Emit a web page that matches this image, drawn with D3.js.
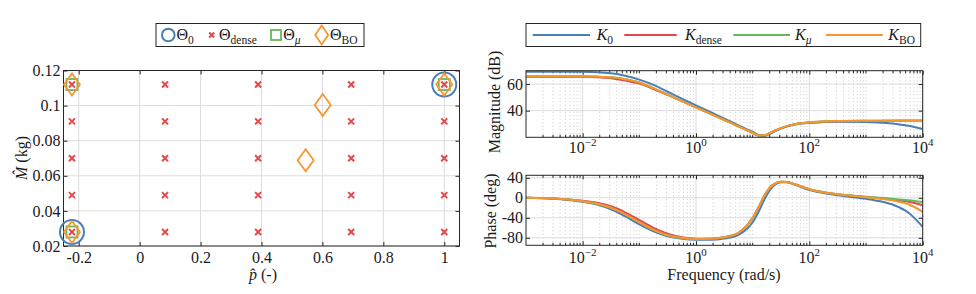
<!DOCTYPE html>
<head>
<meta charset="utf-8">
<script src="https://cdn.jsdelivr.net/npm/d3@7"></script>
<style>
  body { margin: 0; background: #fff; }
</style>
</head>
<body>
<svg width="976" height="294"></svg>
<script>
// ---- left panel: parameter points ----
var pGrid = [-0.2222, 0.0833, 0.3889, 0.6944, 1.0]
var mGrid = [0.028, 0.049, 0.070, 0.091, 0.112]
var theta0 = [[-0.2222, 0.028], [1.0, 0.112]]
var thetaMu = [[-0.2222, 0.112], [-0.2222, 0.028], [1.0, 0.112]]
var thetaBO = [[-0.2222, 0.112], [-0.2222, 0.028], [1.0, 0.112], [0.601, 0.1003], [0.545, 0.0689]]
var pTicks = [-0.2, 0, 0.2, 0.4, 0.6, 0.8, 1]
var mTicks = [0.02, 0.04, 0.06, 0.08, 0.1, 0.12]

// ---- right panels: bode data (log10 of rad/s) ----
var logW = [-3, -2.5, -2, -1.75, -1.5, -1.25, -1, -0.75, -0.5, -0.25, 0, 0.25, 0.5, 0.75, 0.9, 1, 1.1, 1.2, 1.3, 1.4, 1.5, 1.6, 1.75, 2, 2.25, 2.5, 3, 3.25, 3.5, 3.75, 4]

var magK0    = [69.3, 69.3, 69.2, 68.9, 68.0, 66.2, 63.3, 59.3, 54.2, 49.0, 44.0, 39.0, 34.0, 29.0, 26.0, 24.0, 21.8, 21.0, 22.5, 24.6, 26.5, 28.0, 29.6, 30.9, 31.4, 31.6, 31.5, 31.0, 30.2, 28.6, 26.2]
var magDense = [65.5, 65.5, 65.4, 65.1, 64.3, 62.6, 60.3, 56.3, 51.8, 47.1, 42.5, 37.8, 33.0, 28.2, 25.3, 23.3, 21.4, 21.4, 23.1, 25.1, 26.9, 28.4, 29.9, 31.2, 31.8, 32.1, 32.3, 32.3, 32.4, 32.4, 32.4]
var magMu    = [66.0, 66.0, 65.9, 65.6, 65.0, 63.6, 61.2, 56.9, 52.0, 47.2, 42.5, 37.8, 33.0, 28.2, 25.3, 23.3, 21.4, 21.4, 23.1, 25.1, 26.9, 28.4, 29.9, 31.3, 31.9, 32.2, 32.4, 32.5, 32.5, 32.6, 32.7]
var magBO    = [66.0, 66.0, 65.9, 65.6, 65.0, 63.6, 61.2, 56.9, 52.0, 47.2, 42.5, 37.8, 33.0, 28.2, 25.3, 23.3, 21.4, 21.4, 23.1, 25.1, 26.9, 28.4, 29.9, 31.3, 31.9, 32.2, 32.4, 32.4, 32.4, 32.3, 32.2]

var phK0    = [0, -1.8, -8, -13.5, -23, -37, -53, -67, -77, -82, -84, -84, -81.5, -74, -62, -49, -29, -5, 15, 26.5, 31, 31, 26, 15.5, 9.5, 5, -2, -7, -15, -30, -58]
var phDense = [0, -1.2, -6, -10, -17, -29, -44.5, -60, -72, -79, -82, -82, -79, -70, -55, -40, -20, 3, 20, 29, 32, 31.5, 27, 17, 11, 7, 1.5, -1, -4, -8, -15]
var phMu    = [0, -1.5, -7, -12, -20, -33, -49, -64, -75, -80.5, -82.5, -82, -79, -70, -55, -40, -20, 3, 20, 29, 32, 31.5, 27, 17, 11, 7, 2, 0, -2.5, -5, -9]
var phBO    = [0, -1.5, -7, -12, -20, -33, -49, -64, -75, -80.5, -82.5, -82, -79, -70, -55, -40, -20, 3, 20, 29, 32, 31.5, 27, 17, 11, 7, 1, -2, -6, -13, -28]

var magTicks = [40, 60]
var phTicks = [-80, -40, 0, 40]
var freqTicks = [1e-2, 1e0, 1e2, 1e4]

var cBlue = '#4a7fb5', cRed = '#e5474b', cGreen = '#64b95b', cOrange = '#f7962f'
var gridCol = '#dcdcdc', boxCol = '#262626'
var FONT = "'Liberation Serif', serif", FS = '16px'

var svg = d3.select('svg')

// text with a subscript part
function subText(g, x, y, base, sub, opt) {
  opt = opt || {}
  var t = g.append('text').attr('x', x).attr('y', y).style('font-size', FS)
  t.append('tspan').text(base).style('font-style', opt.italic ? 'italic' : 'normal')
  t.append('tspan').attr('dy', 4).style('font-size', '11.5px')
    .style('font-style', opt.subItalic ? 'italic' : 'normal').text(sub)
  return t
}

// ================= left panel =================
var x1 = d3.scaleLinear().domain([-0.25, 1.05]).range([63.5, 459.5])
var y1 = d3.scaleLinear().domain([0.02, 0.12]).range([246, 70.5])
var L = svg.append('g')

L.selectAll('.vg').data(pTicks).enter().append('line')
  .attr('x1', x1).attr('x2', x1).attr('y1', y1.range()[0]).attr('y2', y1.range()[1])
  .attr('stroke', gridCol)
L.selectAll('.hg').data(mTicks).enter().append('line')
  .attr('y1', y1).attr('y2', y1).attr('x1', x1.range()[0]).attr('x2', x1.range()[1])
  .attr('stroke', gridCol)

function fmt(d) { return String(+d.toFixed(4)) }

L.append('g').attr('transform', 'translate(0,246)')
  .call(d3.axisBottom(x1).tickValues(pTicks).tickSize(-4).tickSizeOuter(0).tickPadding(6).tickFormat(fmt))
L.append('g').attr('transform', 'translate(0,70.5)')
  .call(d3.axisTop(x1).tickValues(pTicks).tickSize(-4).tickSizeOuter(0).tickFormat(''))
L.append('g').attr('transform', 'translate(63.5,0)')
  .call(d3.axisLeft(y1).tickValues(mTicks).tickSize(-4).tickSizeOuter(0).tickPadding(3).tickFormat(fmt))
L.append('g').attr('transform', 'translate(459.5,0)')
  .call(d3.axisRight(y1).tickValues(mTicks).tickSize(-4).tickSizeOuter(0).tickFormat(''))
L.selectAll('.domain').remove()
L.selectAll('.tick line').attr('stroke', boxCol)
L.selectAll('.tick text').style('font-size', FS)

L.append('rect').attr('x', 63.5).attr('y', 70.5).attr('width', 396).attr('height', 175.5)
  .attr('fill', 'none').attr('stroke', boxCol)

var dense = d3.cross(pGrid, mGrid)
var crossPath = function (s) { return 'M' + -s + ',' + -s + 'L' + s + ',' + s + 'M' + -s + ',' + s + 'L' + s + ',' + -s }
var diamondPath = function (w, h) { return 'M0,' + -h + 'L' + w + ',0L0,' + h + 'L' + -w + ',0Z' }

L.selectAll('.c0').data(theta0).enter().append('circle')
  .attr('cx', function (d) { return x1(d[0]) }).attr('cy', function (d) { return y1(d[1]) })
  .attr('r', 12).attr('fill', 'none').attr('stroke', cBlue).attr('stroke-width', 2)
L.selectAll('.cd').data(dense).enter().append('path')
  .attr('transform', function (d) { return 'translate(' + x1(d[0]) + ',' + y1(d[1]) + ')' })
  .attr('d', crossPath(3)).attr('stroke', cRed).attr('stroke-width', 2)
L.selectAll('.cm').data(thetaMu).enter().append('rect')
  .attr('x', function (d) { return x1(d[0]) - 5.5 }).attr('y', function (d) { return y1(d[1]) - 5.5 })
  .attr('width', 11).attr('height', 11).attr('fill', 'none').attr('stroke', cGreen).attr('stroke-width', 1.8)
L.selectAll('.cb').data(thetaBO).enter().append('path')
  .attr('transform', function (d) { return 'translate(' + x1(d[0]) + ',' + y1(d[1]) + ')' })
  .attr('d', diamondPath(8, 11)).attr('fill', 'none').attr('stroke', cOrange).attr('stroke-width', 1.8)

// axis labels
var xl = L.append('text').attr('x', 263).attr('y', 280).attr('text-anchor', 'middle').style('font-size', FS)
xl.append('tspan').style('font-style', 'italic').text('p\u0302')
xl.append('tspan').text(' (-)')
var yl = L.append('text').attr('transform', 'translate(27,158) rotate(-90)').attr('text-anchor', 'middle').style('font-size', FS)
yl.append('tspan').style('font-style', 'italic').text('M\u0302')
yl.append('tspan').text(' (kg)')

// left legend
var lg = svg.append('g')
lg.append('rect').attr('x', 156).attr('y', 23.5).attr('width', 208).attr('height', 23)
  .attr('fill', '#fff').attr('stroke', boxCol)
lg.append('circle').attr('cx', 168.3).attr('cy', 35).attr('r', 6.3).attr('fill', 'none').attr('stroke', cBlue).attr('stroke-width', 2)
subText(lg, 176.5, 40, '\u0398', '0')
lg.append('path').attr('transform', 'translate(211.7,35)').attr('d', crossPath(2.5)).attr('stroke', cRed).attr('stroke-width', 2)
subText(lg, 219, 40, '\u0398', 'dense')
lg.append('rect').attr('x', 271).attr('y', 30).attr('width', 10).attr('height', 10).attr('fill', 'none').attr('stroke', cGreen).attr('stroke-width', 1.8)
subText(lg, 283.3, 40, '\u0398', '\u03bc', { subItalic: true })
lg.append('path').attr('transform', 'translate(321.7,35)').attr('d', diamondPath(6.5, 9.5)).attr('fill', 'none').attr('stroke', cOrange).attr('stroke-width', 1.8)
subText(lg, 330, 40, '\u0398', 'BO')

// ================= right panels =================
var xF = d3.scaleLog().domain([1e-3, 1e4]).range([526, 922.7])
var yM = d3.scaleLinear().domain([20, 70]).range([137.3, 70.7])
var yP = d3.scaleLinear().domain([-95, 45]).range([245.3, 175.3])

var minorF = []
for (var e = -3; e < 4; e++) for (var k = 1; k < 10; k++) minorF.push(k * Math.pow(10, e))
minorF = minorF.filter(function (f) { return f > 1e-3 * 1.01 && f < 1e4 * 0.99 && freqTicks.indexOf(f) < 0 })

var series = [
  { mag: magK0, ph: phK0, col: cBlue },
  { mag: magDense, ph: phDense, col: cRed },
  { mag: magMu, ph: phMu, col: cGreen },
  { mag: magBO, ph: phBO, col: cOrange }
]

function bodePanel(ys, yTicks, key, clipId, labOff) {
  var g = svg.append('g')
  var y0 = ys.range()[0], y1r = ys.range()[1]
  g.selectAll('.mg').data(minorF).enter().append('line')
    .attr('x1', xF).attr('x2', xF).attr('y1', y0).attr('y2', y1r)
    .attr('stroke', '#bdbdbd').attr('stroke-width', 0.8).attr('stroke-dasharray', '1,2.5')
  g.selectAll('.vg').data(freqTicks).enter().append('line')
    .attr('x1', xF).attr('x2', xF).attr('y1', y0).attr('y2', y1r).attr('stroke', gridCol)
  g.selectAll('.hg').data(yTicks).enter().append('line')
    .attr('y1', ys).attr('y2', ys).attr('x1', 526).attr('x2', 922.7).attr('stroke', gridCol)

  // minor ticks top/bottom
  g.selectAll('.mtb').data(minorF).enter().append('line')
    .attr('x1', xF).attr('x2', xF).attr('y1', y0).attr('y2', y0 - 2.5).attr('stroke', boxCol)
  g.selectAll('.mtt').data(minorF).enter().append('line')
    .attr('x1', xF).attr('x2', xF).attr('y1', y1r).attr('y2', y1r + 2.5).attr('stroke', boxCol)

  g.append('g').attr('transform', 'translate(0,' + y0 + ')')
    .call(d3.axisBottom(xF).tickValues(freqTicks).tickSize(-4).tickSizeOuter(0).tickFormat(''))
  g.append('g').attr('transform', 'translate(0,' + y1r + ')')
    .call(d3.axisTop(xF).tickValues(freqTicks).tickSize(-4).tickSizeOuter(0).tickFormat(''))
  g.append('g').attr('transform', 'translate(526,0)')
    .call(d3.axisLeft(ys).tickValues(yTicks).tickSize(-4).tickSizeOuter(0).tickPadding(3).tickFormat(function (d) { return String(d) }))
  g.append('g').attr('transform', 'translate(922.7,0)')
    .call(d3.axisRight(ys).tickValues(yTicks).tickSize(-4).tickSizeOuter(0).tickFormat(''))
  g.selectAll('.domain').remove()
  g.selectAll('.tick line').attr('stroke', boxCol)
  g.selectAll('.tick text').style('font-size', FS)

  // 10^n labels
  var lab = g.selectAll('.flab').data(freqTicks).enter().append('text')
    .attr('x', xF).attr('y', y0 + labOff).attr('text-anchor', 'middle').style('font-size', FS)
  lab.append('tspan').text('10')
  lab.append('tspan').attr('dy', -7).style('font-size', '11px')
    .text(function (d) { var n = Math.round(Math.log10(d)); return n < 0 ? '\u2212' + (-n) : String(n) })

  g.append('clipPath').attr('id', clipId).append('rect')
    .attr('x', 526).attr('y', y1r).attr('width', 922.7 - 526).attr('height', y0 - y1r)

  var line = d3.line()
    .x(function (d, i) { return xF(Math.pow(10, logW[i])) })
    .y(function (d) { return ys(d) })
    .curve(d3.curveMonotoneX)
  g.append('g').attr('clip-path', 'url(#' + clipId + ')')
    .selectAll('path').data(series).enter().append('path')
    .attr('d', function (s) { return line(s[key]) })
    .attr('fill', 'none').attr('stroke', function (s) { return s.col }).attr('stroke-width', 2)

  g.append('rect').attr('x', 526).attr('y', y1r).attr('width', 922.7 - 526).attr('height', y0 - y1r)
    .attr('fill', 'none').attr('stroke', boxCol)
  return g
}

bodePanel(yM, magTicks, 'mag', 'clipMag', 15.5)
bodePanel(yP, phTicks, 'ph', 'clipPh', 18)

svg.append('text').attr('transform', 'translate(500,102) rotate(-90)').attr('text-anchor', 'middle')
  .style('font-size', FS).text('Magnitude (dB)')
svg.append('text').attr('transform', 'translate(496,211) rotate(-90)').attr('text-anchor', 'middle')
  .style('font-size', FS).text('Phase (deg)')
svg.append('text').attr('x', 724).attr('y', 280).attr('text-anchor', 'middle')
  .style('font-size', FS).text('Frequency (rad/s)')

// right legend
var rg = svg.append('g')
rg.append('rect').attr('x', 526).attr('y', 23.5).attr('width', 394.7).attr('height', 23)
  .attr('fill', '#fff').attr('stroke', boxCol)
var legItems = [
  { x0: 532.7, x1: 590, tx: 596.7, sub: '0', col: cBlue, it: false },
  { x0: 624.3, x1: 676.7, tx: 685, sub: 'dense', col: cRed, it: false },
  { x0: 733.3, x1: 790, tx: 795, sub: '\u03bc', col: cGreen, it: true },
  { x0: 826, x1: 882.7, tx: 888.3, sub: 'BO', col: cOrange, it: false }
]
legItems.forEach(function (d) {
  rg.append('line').attr('x1', d.x0).attr('x2', d.x1).attr('y1', 35).attr('y2', 35)
    .attr('stroke', d.col).attr('stroke-width', 2)
  subText(rg, d.tx, 40, 'K', d.sub, { italic: true, subItalic: d.it })
})

svg.selectAll('text').attr('font-family', null).style('font-family', FONT).attr('fill', '#1a1a1a')
svg.selectAll('g').attr('font-family', null)
</script>
</body>
